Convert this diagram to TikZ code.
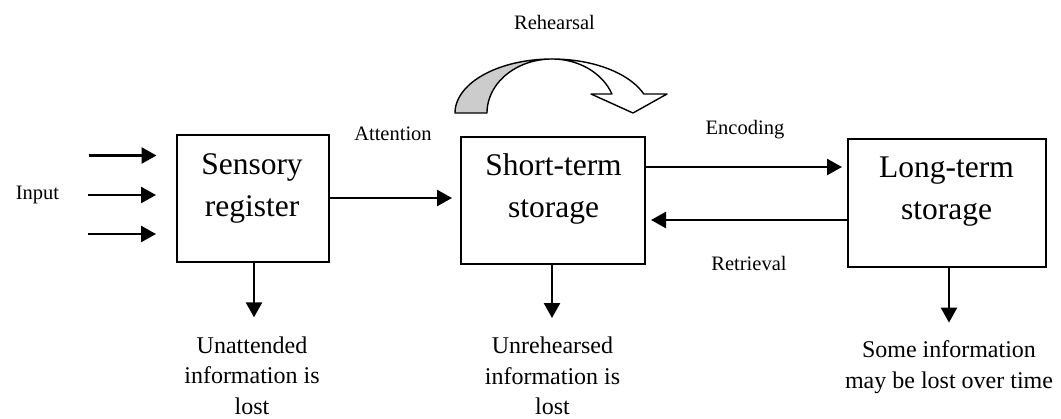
\documentclass[tikz,border=0pt]{standalone}
\usepackage{fontspec}
\setmainfont{Liberation Serif}
\usetikzlibrary{arrows.meta}
\tikzset{
  box/.style={draw, line width=2pt, inner sep=0pt},
  boxtext/.style={align=center, inner sep=0pt, font=\fontsize{31.5}{42}\selectfont},
  lbl/.style={inner sep=0pt, anchor=base, font=\fontsize{20.5}{24}\selectfont},
  note/.style={align=center, inner sep=0pt, anchor=north, font=\fontsize{24}{30.5}\selectfont},
  arr/.style={line width=2.5pt, -{Triangle[length=15pt,width=16pt]}},
  curveedge/.style={line width=1.4pt, line join=round},
}
\begin{document}
\begin{tikzpicture}[x=1pt,y=-1pt]
\useasboundingbox (0,0) rectangle (1061,418);

% boxes
\node[box, minimum width=152pt, minimum height=127pt] (sr) at (253,198.5) {};
\node[box, minimum width=184pt, minimum height=127pt] (st) at (553,200.3) {};
\node[box, minimum width=198pt, minimum height=128pt] (lt) at (947,203.2) {};

\node[boxtext] (srt) at (252,188.4) {Sensory\\register};
\node[boxtext] (stt) at (553.5,189.4) {Short-term\\storage};
\node[boxtext] (ltt) at (946.5,191.5) {Long-term\\storage};

% labels
\node[lbl] (reh) at (554.5,29) {Rehearsal};
\node[lbl] (att) at (393,140.5) {Attention};
\node[lbl] (enc) at (745,134) {Encoding};
\node[lbl] (ret) at (749,270) {Retrieval};
\node[lbl] (inp) at (37.5,199) {Input};

% bottom notes
\node[note] (ua) at (252,336.3) {Unattended\\information is\\lost};
\node[note] (ur) at (552.5,337) {Unrehearsed\\information is\\lost};
\node[note] (so) at (949,340.6) {Some information\\may be lost over time};

% input arrows
\coordinate (i1s) at (89,155.5); \coordinate (i1e) at (156.5,155.5);
\coordinate (i2s) at (88,195);   \coordinate (i2e) at (156,195);
\coordinate (i3s) at (88,234);   \coordinate (i3e) at (156,234);
\draw[arr] (i1s) -- (i1e);
\draw[arr] (i2s) -- (i2e);
\draw[arr] (i3s) -- (i3e);

% attention
\draw[arr] ([yshift=0.5pt]sr.east) coordinate (a1) -- ([xshift=-8pt]st.west |- a1);
% encoding
\draw[arr] ([yshift=33.3pt]st.east) coordinate (e1) -- ([xshift=-5pt]lt.west |- e1);
% retrieval
\draw[arr] ([yshift=-16.8pt]lt.west) coordinate (r1) -- ([xshift=5pt]st.east |- r1);

% losses
\draw[arr, shorten >=19pt] ([xshift=1pt]sr.south) -- ([xshift=1pt]sr.south |- ua.north);
\draw[arr, shorten >=19pt] ([xshift=-1pt]st.south) -- ([xshift=-1pt]st.south |- ur.north);
\draw[arr, shorten >=18pt] ([xshift=2pt]lt.south) -- ([xshift=2pt]lt.south |- so.north);

% rehearsal curved arrow
\filldraw[curveedge, fill=gray!40]
  plot[domain=180:270, samples=40, variable=\t] ({552+97*cos(\t)},{113+54*sin(\t)})
  -- plot[domain=270:180, samples=40, variable=\t] ({552+65*cos(\t)},{113+54*sin(\t)})
  -- cycle;
\filldraw[curveedge, fill=white]
  plot[domain=270:339.4, samples=40, variable=\t] ({552+98*cos(\t)},{113+54*sin(\t)})
  -- (667,94) -- (633,113) -- (591,94)
  -- plot[domain=339.4:270, samples=40, variable=\t] ({552+64*cos(\t)},{113+54*sin(\t)})
  -- cycle;
\end{tikzpicture}
\end{document}
